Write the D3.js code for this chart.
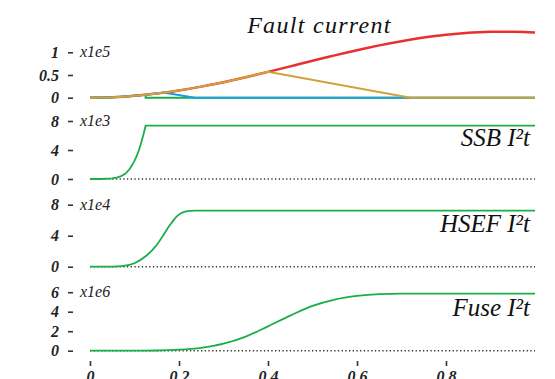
<!DOCTYPE html>
<html>
<head>
<meta charset="utf-8">
<script src="https://cdn.jsdelivr.net/npm/d3@7"></script>
<style>
  html, body { margin: 0; padding: 0; background: #fff; }
  svg { display: block; }
</style>
</head>
<body>
<svg id="chart" width="555" height="379"></svg>
<script>
// ---- time axis (s) ----
const timeTicks = [0, 0.2, 0.4, 0.6, 0.8];

// ---- prospective fault current (x1e5 A) ----
const faultT = [0, 0.025, 0.05, 0.075, 0.1, 0.125, 0.15, 0.175, 0.2, 0.225, 0.25, 0.275, 0.3, 0.325, 0.35, 0.375, 0.4,
                0.425, 0.45, 0.475, 0.5, 0.525, 0.55, 0.575, 0.6, 0.625, 0.65, 0.675, 0.7, 0.725, 0.75, 0.775, 0.8,
                0.825, 0.85, 0.875, 0.9, 0.925, 0.95, 0.975, 1.0];
const faultI = [0, 0.003, 0.010, 0.023, 0.041, 0.064, 0.091, 0.123, 0.160, 0.200, 0.244, 0.292, 0.342, 0.396, 0.452, 0.510, 0.569,
                0.629, 0.690, 0.752, 0.813, 0.873, 0.933, 0.991, 1.047, 1.101, 1.152, 1.200, 1.245, 1.286, 1.324, 1.357, 1.385,
                1.409, 1.428, 1.441, 1.450, 1.454, 1.452, 1.446, 1.434];

// ---- let-through current of each protective device (x1e5 A) ----
const ssbT  = [0, 0.025, 0.05, 0.075, 0.1, 0.125, 0.125, 1.0];
const ssbI  = [0, 0.003, 0.010, 0.023, 0.041, 0.064, 0, 0];
const hsefT = [0, 0.025, 0.05, 0.075, 0.1, 0.125, 0.15, 0.165, 0.236, 1.0];
const hsefI = [0, 0.003, 0.010, 0.023, 0.041, 0.064, 0.091, 0.112, 0, 0];
const fuseT = [0, 0.025, 0.05, 0.075, 0.1, 0.125, 0.15, 0.175, 0.2, 0.225, 0.25, 0.275, 0.3, 0.325, 0.35, 0.375, 0.4, 0.72, 1.0];
const fuseI = [0, 0.003, 0.010, 0.023, 0.041, 0.064, 0.091, 0.123, 0.160, 0.200, 0.244, 0.292, 0.342, 0.396, 0.452, 0.510, 0.569, 0, 0];

// ---- I²t of each device ----
const ssbI2tT  = [0, 0.025, 0.05, 0.06, 0.07, 0.08, 0.09, 0.1, 0.105, 0.11, 0.115, 0.12, 0.125, 1.0];
const ssbI2t   = [0, 0, 0.08, 0.2, 0.4, 0.75, 1.45, 2.5, 3.2, 4.0, 5.0, 6.1, 7.35, 7.35];          // x1e3
const hsefI2tT = [0, 0.05, 0.075, 0.1, 0.125, 0.15, 0.165, 0.18, 0.195, 0.21, 0.225, 0.236, 1.0];
const hsefI2t  = [0, 0.02, 0.1, 0.45, 1.35, 2.8, 4.1, 5.4, 6.5, 7.05, 7.2, 7.23, 7.23];          // x1e4
const fuseI2tT = [0, 0.1, 0.15, 0.2, 0.25, 0.3, 0.35, 0.4, 0.45, 0.5, 0.55, 0.6, 0.65, 0.7, 0.75, 1.0];
const fuseI2t  = [0, 0.003, 0.02, 0.1, 0.3, 0.72, 1.45, 2.5, 3.6, 4.6, 5.25, 5.62, 5.8, 5.85, 5.85, 5.85]; // x1e6

// ---- panel tick values and labels ----
const currentTicks = [0, 0.5, 1];
const ssbTicks  = [0, 4, 8];
const hsefTicks = [0, 4, 8];
const fuseTicks = [0, 2, 4, 6];
const panelScales = ['x1e5', 'x1e3', 'x1e4', 'x1e6'];
const panelTitles = ['Fault current', 'SSB I²t', 'HSEF I²t', 'Fuse I²t'];

const colors = { fault: '#e8302c', ssb: '#1aae4a', hsef: '#1ba0dc', fuse: '#d2a03c' };
const SERIF = 'Liberation Serif';

const svg = d3.select('#chart');
const x = d3.scaleLinear().domain([0, 1]).range([90, 535]);

const zip = (ts, vs) => ts.map((t, i) => [t, vs[i]]);

// vertical layout of the four stacked panels
const panels = [
  { ticks: currentTicks, top: 1, y0: 97.7, yTop: 52.3 },
  { ticks: ssbTicks,     top: 8, y0: 179,  yTop: 121 },
  { ticks: hsefTicks,    top: 8, y0: 266.7, yTop: 204.7 },
  { ticks: fuseTicks,    top: 6, y0: 350.7, yTop: 292.2 }
].map((p, i) => ({ ...p, y: d3.scaleLinear().domain([0, p.top]).range([p.y0, p.yTop]),
                   scale: panelScales[i], title: panelTitles[i] }));

const styleTickText = sel => sel
  .attr('font-family', SERIF).attr('font-style', 'italic')
  .attr('font-size', 16).attr('font-weight', 'bold').attr('fill', '#222');

// y axes with exponent labels
panels.forEach(p => {
  const ax = svg.append('g').attr('transform', 'translate(73,0)')
    .call(d3.axisLeft(p.y).tickValues(p.ticks).tickSize(5).tickPadding(9).tickFormat(d => String(d)));
  ax.attr('font-family', SERIF);
  ax.select('.domain').remove();
  ax.selectAll('.tick line').attr('stroke', '#333').attr('stroke-width', 1.6);
  ax.selectAll('.tick text').call(styleTickText);
  svg.append('text')
    .attr('x', 80).attr('y', p.y(p.top)).attr('dy', '0.32em')
    .attr('font-family', SERIF).attr('font-style', 'italic')
    .attr('font-size', 16).attr('fill', '#222')
    .text(p.scale);
});

// x axis
const xa = svg.append('g').attr('transform', 'translate(0,361)')
  .call(d3.axisBottom(x).tickValues(timeTicks).tickSize(5).tickPadding(4.5).tickFormat(d => String(d)));
xa.attr('font-family', SERIF);
xa.select('.domain').remove();
xa.selectAll('.tick line').attr('stroke', '#333').attr('stroke-width', 1.6);
xa.selectAll('.tick text').call(styleTickText);

// dotted zero lines in the I²t panels
panels.slice(1).forEach(p => {
  svg.append('line')
    .attr('x1', x(0)).attr('x2', x(1)).attr('y1', p.y(0)).attr('y2', p.y(0))
    .attr('stroke', '#333').attr('stroke-width', 1.4).attr('stroke-dasharray', '1.3,2.4');
});

// top panel: current traces
const pc = panels[0];
const lineLin = d3.line().x(d => x(d[0])).y(d => pc.y(d[1]));
const lineSmooth = d3.line().x(d => x(d[0])).y(d => pc.y(d[1])).curve(d3.curveCatmullRom);

svg.append('path').datum(zip(faultT, faultI)).attr('d', lineSmooth)
  .attr('fill', 'none').attr('stroke', colors.fault).attr('stroke-width', 2.5);
svg.append('path').datum(zip(ssbT, ssbI)).attr('d', lineLin)
  .attr('fill', 'none').attr('stroke', colors.ssb).attr('stroke-width', 2);
svg.append('path').datum(zip(hsefT, hsefI)).attr('d', lineLin)
  .attr('fill', 'none').attr('stroke', colors.hsef).attr('stroke-width', 2);
svg.append('path').datum(zip(fuseT, fuseI)).attr('d', lineLin)
  .attr('fill', 'none').attr('stroke', colors.fuse).attr('stroke-width', 2);

// I²t traces
const i2tSeries = [
  { p: panels[1], data: zip(ssbI2tT, ssbI2t),   curve: d3.curveLinear },
  { p: panels[2], data: zip(hsefI2tT, hsefI2t), curve: d3.curveMonotoneX },
  { p: panels[3], data: zip(fuseI2tT, fuseI2t), curve: d3.curveMonotoneX }
];
i2tSeries.forEach(s => {
  const ln = d3.line().x(d => x(d[0])).y(d => s.p.y(d[1])).curve(s.curve);
  svg.append('path').datum(s.data).attr('d', ln)
    .attr('fill', 'none').attr('stroke', colors.ssb).attr('stroke-width', 1.8);
});

// panel titles
svg.append('text')
  .attr('x', 319.5).attr('y', 33).attr('text-anchor', 'middle')
  .attr('font-family', SERIF).attr('font-style', 'italic')
  .attr('font-size', 24).attr('letter-spacing', 1.3).attr('fill', '#111')
  .text(panelTitles[0]);
[[1, 146], [2, 231.7], [3, 316]].forEach(([i, yb]) => {
  svg.append('text')
    .attr('x', 530).attr('y', yb).attr('text-anchor', 'end')
    .attr('font-family', SERIF).attr('font-style', 'italic')
    .attr('font-size', 25).attr('fill', '#111')
    .text(panelTitles[i]);
});
</script>
</body>
</html>
